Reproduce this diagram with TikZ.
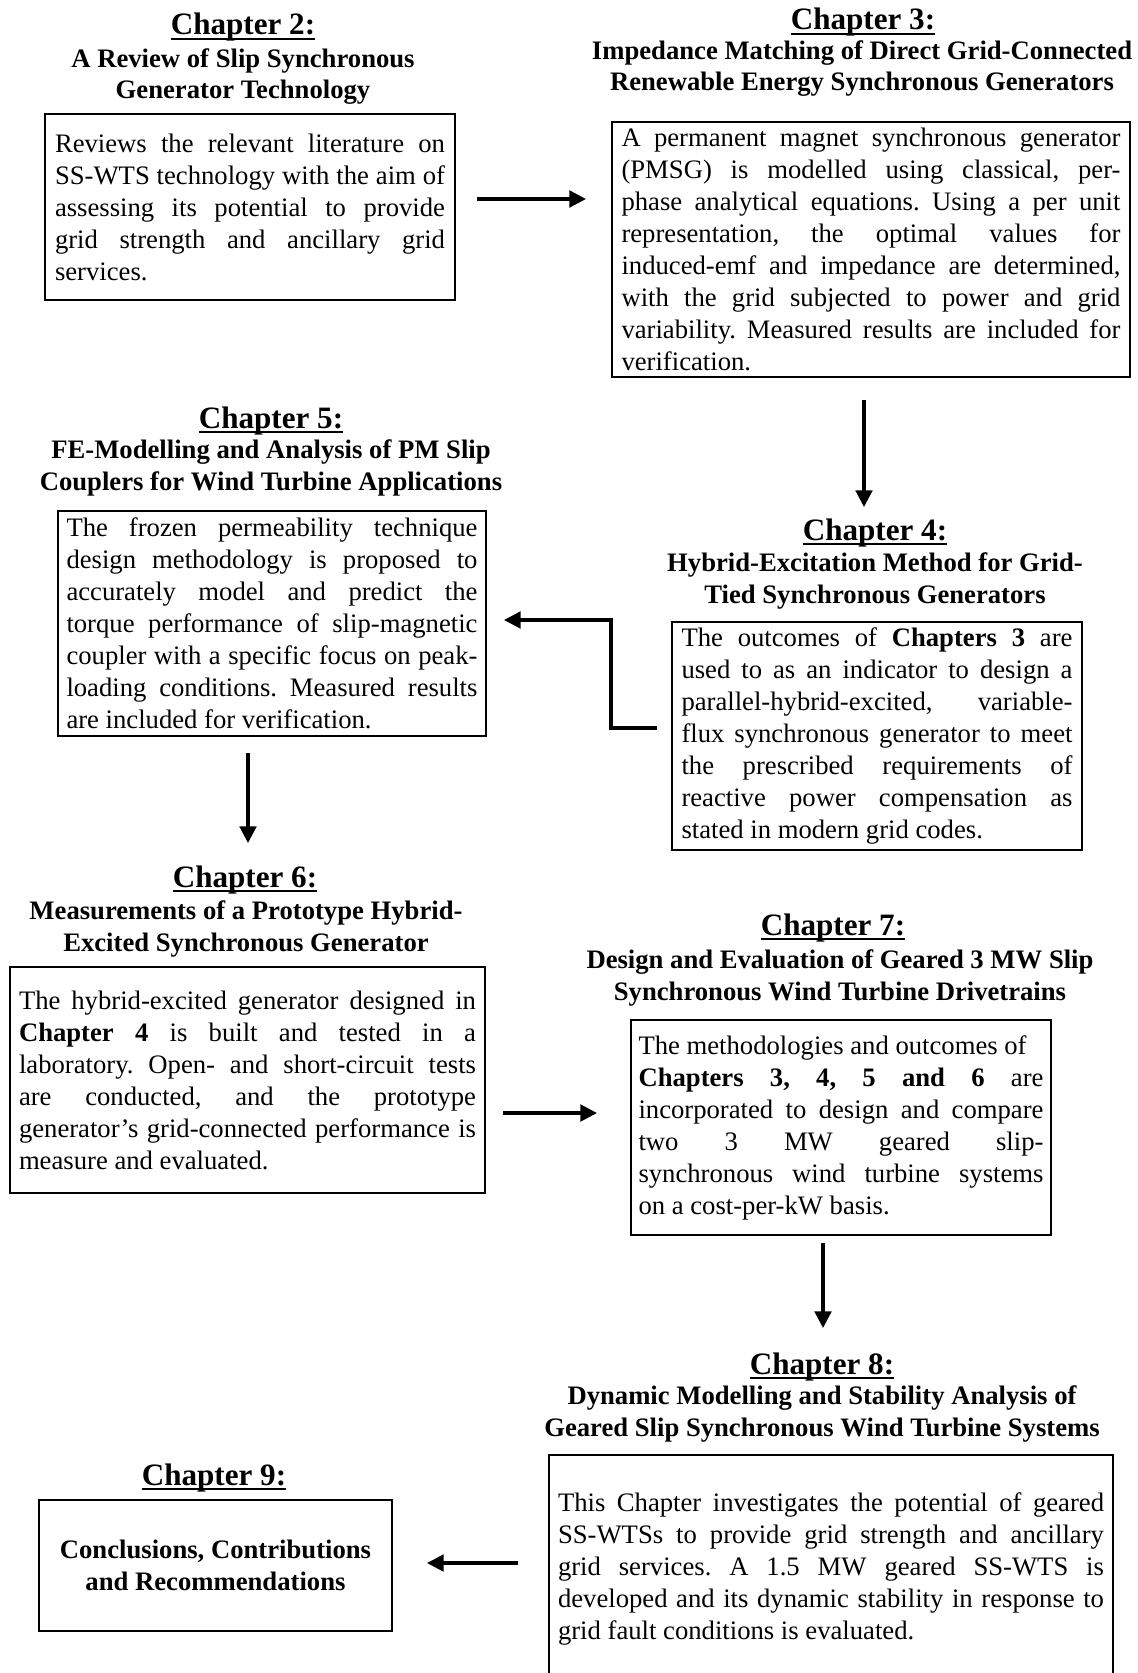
\documentclass[tikz,border=0pt]{standalone}
\usepackage{fontspec}
\setmainfont{Liberation Serif}
\usetikzlibrary{arrows.meta}
\frenchspacing

\newcommand{\chapul}[1]{\setbox0=\hbox{#1}\rlap{\rule[-2.2pt]{\wd0}{0.9pt}}\box0}

\tikzset{
  chaphead/.style={font=\fontsize{14}{16}\selectfont\bfseries,inner sep=0pt,anchor=base},
  chapsub/.style={font=\fontsize{12}{14}\selectfont\bfseries,align=center,inner sep=0pt},
  chapbox/.style={draw,line width=0.9pt,anchor=north west,inner sep=2pt,align=justify,
    font=\fontsize{12}{14.4}\selectfont},
  flow/.style={line width=1.4pt,-{Triangle[length=7.5pt,width=7.5pt]}}
}

\begin{document}
\begin{tikzpicture}[x=0.45pt,y=-0.45pt]
 \useasboundingbox (0,0) rectangle (1137,1673);
 % chapter 2
 \node[chaphead] (ch2head) at (243,35) {\chapul{Chapter 2:}};
 \node[chapsub] (ch2sub) at (243,77) {A Review of Slip Synchronous\\Generator Technology};
 \node[chapbox,text width=175.5pt,minimum width=184.5pt,minimum height=83.7pt] (ch2) at (44,113)
   {Reviews the relevant literature on\linebreak SS-WTS technology with the aim of\linebreak
    assessing its potential to provide\linebreak grid strength and ancillary grid\linebreak services.};
 % chapter 3
 \node[chaphead] (ch3head) at (863,30) {\chapul{Chapter 3:}};
 \node[chapsub] (ch3sub) at (862,69) {Impedance Matching of Direct Grid-Connected\\Renewable Energy Synchronous Generators};
 \node[chapbox,text width=224.55pt,minimum width=233.1pt,minimum height=114.75pt] (ch3) at (611,121)
   {A permanent magnet synchronous generator\linebreak (PMSG) is modelled using classical, per-\linebreak
    phase analytical equations. Using a per unit\linebreak representation, the optimal values for\linebreak
    induced-emf and impedance are determined,\linebreak with the grid subjected to power and grid\linebreak
    variability. Measured results are included for\linebreak verification.};
 % chapter 4
 \node[chaphead] (ch4head) at (875,540) {\chapul{Chapter 4:}};
 \node[chapsub] (ch4sub) at (875,581) {Hybrid-Excitation Method for Grid-\\Tied Synchronous Generators};
 \node[chapbox,text width=175.95pt,minimum width=184.5pt,minimum height=102.6pt] (ch4) at (671,621)
   {The outcomes of \textbf{Chapters 3} are\linebreak used to as an indicator to design a\linebreak
    parallel-hybrid-excited, variable-\linebreak flux synchronous generator to meet\linebreak
    the prescribed requirements of\linebreak reactive power compensation as\linebreak
    stated in modern grid codes.};
 % chapter 5
 \node[chaphead] (ch5head) at (271,428) {\chapul{Chapter 5:}};
 \node[chapsub] (ch5sub) at (271,468) {FE-Modelling and Analysis of PM Slip\\Couplers for Wind Turbine Applications};
 \node[chapbox,text width=184.95pt,minimum width=192.6pt,minimum height=101.25pt] (ch5) at (57,510)
   {The frozen permeability technique\linebreak design methodology is proposed to\linebreak
    accurately model and predict the\linebreak torque performance of slip-magnetic\linebreak
    coupler with a specific focus on peak-\linebreak loading conditions. Measured results\linebreak
    are included for verification.};
 % chapter 6
 \node[chaphead] (ch6head) at (245,887) {\chapul{Chapter 6:}};
 \node[chapsub] (ch6sub) at (246,929) {Measurements of a Prototype Hybrid-\\Excited Synchronous Generator};
 \node[chapbox,text width=205.65pt,minimum width=213.75pt,minimum height=101.7pt] (ch6) at (9,966)
   {The hybrid-excited generator designed in\linebreak \textbf{Chapter 4} is built and tested in a\linebreak
    laboratory. Open- and short-circuit tests\linebreak are conducted, and the prototype\linebreak
    generator’s grid-connected performance is\linebreak measure and evaluated.};
 % chapter 7
 \node[chaphead] (ch7head) at (833,935) {\chapul{Chapter 7:}};
 \node[chapsub] (ch7sub) at (840,978) {Design and Evaluation of Geared 3 MW Slip\\Synchronous Wind Turbine Drivetrains};
 \node[chapbox,text width=182.25pt,minimum width=189pt,minimum height=96.75pt] (ch7) at (630,1019)
   {The methodologies and outcomes of\newline \textbf{Chapters 3, 4, 5 and 6} are\linebreak
    incorporated to design and compare\linebreak two 3 MW geared slip-\linebreak
    synchronous wind turbine systems\linebreak on a cost-per-kW basis.};
 % chapter 8
 \node[chaphead] (ch8head) at (822,1374) {\chapul{Chapter 8:}};
 \node[chapsub] (ch8sub) at (822,1414) {Dynamic Modelling and Stability Analysis of\\Geared Slip Synchronous Wind Turbine Systems};
 \node[chapbox,text width=245.7pt,minimum width=253.8pt,minimum height=102.6pt] (ch8) at (548,1454)
   {This Chapter investigates the potential of geared\linebreak SS-WTSs to provide grid strength and ancillary\linebreak
    grid services. A 1.5 MW geared SS-WTS is\linebreak developed and its dynamic stability in response to\linebreak
    grid fault conditions is evaluated.};
 % chapter 9
 \node[chaphead] (ch9head) at (214,1485) {\chapul{Chapter 9:}};
 \node[chapbox,align=center,font=\fontsize{12}{14.4}\selectfont\bfseries,minimum width=158.85pt,minimum height=58.95pt]
   (ch9) at (38,1499) {Conclusions, Contributions\\and Recommendations};
 % arrows
 \coordinate (a23s) at (477,199);  \coordinate (a23e) at (586,199);
 \coordinate (a34s) at (864,400);  \coordinate (a34e) at (864,507);
 \coordinate (a56s) at (248,753);  \coordinate (a56e) at (248,843);
 \coordinate (a67s) at (503,1113); \coordinate (a67e) at (597,1113);
 \coordinate (a78s) at (823,1243); \coordinate (a78e) at (823,1328);
 \coordinate (a89s) at (518,1563); \coordinate (a89e) at (427,1563);
 \coordinate (a45s) at (657,728);  \coordinate (a45k) at (611,620);  \coordinate (a45e) at (504,620);
 \foreach \s/\e in {a23s/a23e,a34s/a34e,a56s/a56e,a67s/a67e,a78s/a78e,a89s/a89e}
   \draw[flow] (\s)--(\e);
 \draw[flow] (a45s)-|(a45k)--(a45e);
\end{tikzpicture}
\end{document}
